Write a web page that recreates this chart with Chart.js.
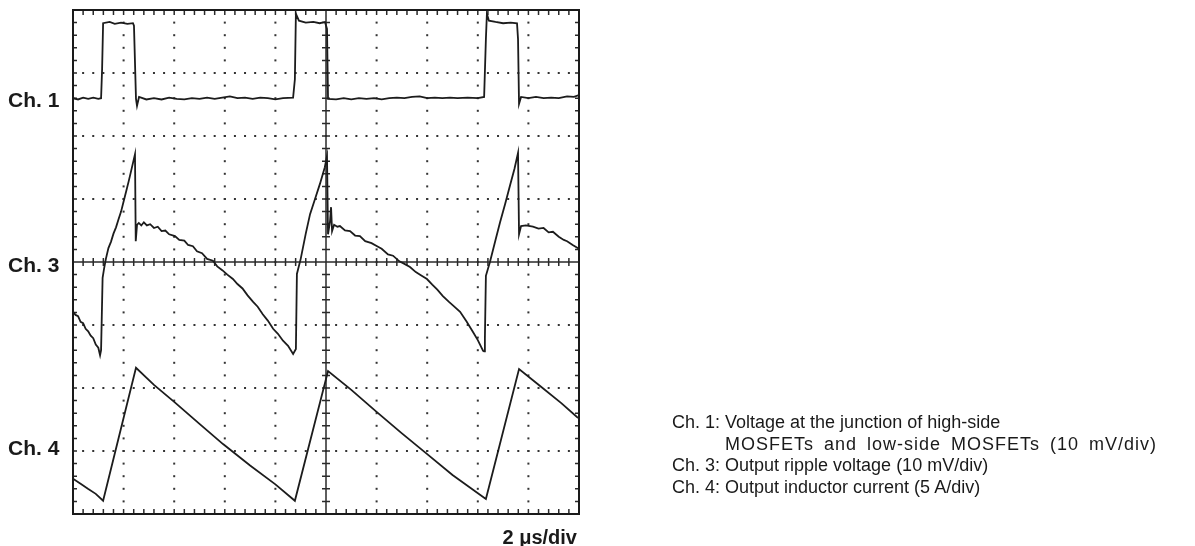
<!DOCTYPE html>
<html>
<head>
<meta charset="utf-8">
<title>Buck converter waveforms</title>
<script src="https://cdn.jsdelivr.net/npm/chart.js@4.4.1/dist/chart.umd.min.js"></script>
<style>
  body { margin: 0; background: #fff; }
  #wrap { position: relative; width: 1195px; height: 546px; font-family: "Liberation Sans", Arial, sans-serif; color: #1a1a1a; }
  #scope { position: absolute; left: 0; top: 0; }
  .ch { position: absolute; left: 8px; font-weight: bold; font-size: 21px; line-height: 24px; }
  .div { position: absolute; right: 618px; top: 525px; font-weight: bold; font-size: 20px; line-height: 24px; }
  .notes { position: absolute; left: 672px; top: 412px; font-size: 18px; line-height: 21.7px; }
  .notes .indent { padding-left: 53px; letter-spacing: 1px; word-spacing: 4px; }
</style>
</head>
<body>
<div id="wrap">
  <canvas id="scope" width="1195" height="546"></canvas>
  <div class="ch" style="top:88px">Ch. 1</div>
  <div class="ch" style="top:253px">Ch. 3</div>
  <div class="ch" style="top:436px">Ch. 4</div>
  <div class="div">2 μs/div</div>
  <div class="notes">
    <div>Ch. 1: Voltage at the junction of high-side</div>
    <div class="indent">MOSFETs and low-side MOSFETs (10 mV/div)</div>
    <div>Ch. 3: Output ripple voltage (10 mV/div)</div>
    <div>Ch. 4: Output inductor current (5 A/div)</div>
  </div>
</div>
<script>
// time in µs (2 µs/div), levels in screen divisions (-4 .. 4)
const timeDivs = [0, 2, 4, 6, 8, 10, 12, 14, 16, 18, 20];
const levelDivs = [-4, -3, -2, -1, 0, 1, 2, 3, 4];

// Ch. 1 - switch node
const ch1Time = [0, 0.2, 0.4, 0.6, 0.8, 1.0, 1.11, 1.15, 1.19, 1.45, 1.65, 1.9, 2.15, 2.37, 2.41, 2.49, 2.53, 2.61,
  2.9, 3.2, 3.5, 3.8, 4.1, 4.4, 4.7, 5.0, 5.3, 5.6, 5.9, 6.2, 6.5, 6.8, 7.1, 7.4, 7.7, 8.0, 8.3, 8.7,
  8.77, 8.81, 8.93, 9.2, 9.5, 9.75, 9.96, 10.04, 10.08, 10.4, 10.7, 11.0, 11.3, 11.6, 11.9, 12.2, 12.5,
  12.8, 13.1, 13.4, 13.7, 14.0, 14.3, 14.6, 14.9, 15.2, 15.6, 16.0, 16.25, 16.32, 16.36, 16.44, 16.7,
  17.0, 17.3, 17.55, 17.59, 17.63, 17.71, 18.0, 18.3, 18.6, 18.9, 19.2, 19.53, 19.8, 20.0];
const ch1Div = [2.60, 2.58, 2.61, 2.59, 2.61, 2.59, 2.60, 3.06, 3.79, 3.81, 3.78, 3.80, 3.78, 3.79, 3.75, 2.59, 2.48, 2.62,
  2.58, 2.60, 2.58, 2.61, 2.59, 2.58, 2.60, 2.59, 2.61, 2.59, 2.61, 2.63, 2.60, 2.61, 2.59, 2.61, 2.60, 2.58, 2.60, 2.61,
  2.90, 3.94, 3.83, 3.80, 3.81, 3.79, 3.81, 3.70, 2.59, 2.58, 2.60, 2.58, 2.60, 2.59, 2.60, 2.58, 2.60,
  2.61, 2.60, 2.62, 2.63, 2.60, 2.61, 2.60, 2.61, 2.60, 2.61, 2.60, 2.62, 3.54, 3.94, 3.83, 3.81,
  3.79, 3.80, 3.79, 3.54, 2.51, 2.62, 2.60, 2.62, 2.60, 2.61, 2.60, 2.63, 2.62, 2.65];

// Ch. 3 - output ripple
const ch3Time = [0, 0.1, 0.2, 0.3, 0.4, 0.5, 0.6, 0.7, 0.8, 0.9, 1.0, 1.07, 1.11, 1.17, 1.23, 1.3, 1.4, 1.5, 1.6, 1.7,
  1.8, 1.9, 2.0, 2.1, 2.2, 2.3, 2.45, 2.48, 2.53, 2.6, 2.7, 2.8, 2.92, 3.05, 3.2, 3.35, 3.5, 3.65, 3.8, 4.03,
  4.2, 4.4, 4.55, 4.74, 4.9, 5.1, 5.3, 5.53, 5.7, 5.9, 6.1, 6.32, 6.5, 6.7, 6.9, 7.11, 7.3, 7.5, 7.7, 7.91,
  8.1, 8.3, 8.5, 8.7, 8.81, 8.85, 9.0, 9.2, 9.37, 9.55, 9.76, 9.95, 10.04, 10.08, 10.16, 10.2, 10.24, 10.32,
  10.45, 10.55, 10.75, 10.95, 11.15, 11.34, 11.55, 11.8, 12.02, 12.2, 12.45, 12.65, 12.9, 13.1, 13.32, 13.55,
  13.75, 13.99, 14.2, 14.4, 14.62, 14.85, 15.05, 15.3, 15.55, 15.81, 16.0, 16.21, 16.25, 16.28, 16.32, 16.48,
  16.7, 16.88, 17.08, 17.27, 17.45, 17.59, 17.63, 17.71, 17.9, 18.18, 18.4, 18.6, 18.8, 18.97, 19.2, 19.4,
  19.53, 19.75, 20.0];
const ch3Div = [-0.79, -0.84, -0.86, -0.95, -0.97, -1.06, -1.10, -1.17, -1.21, -1.31, -1.36, -1.48, -1.40, -0.25, -0.10, 0.05, 0.22, 0.32, 0.45, 0.55,
  0.68, 0.80, 0.96, 1.12, 1.28, 1.45, 1.71, 0.33, 0.59, 0.62, 0.58, 0.63, 0.58, 0.60, 0.54, 0.56, 0.49, 0.50, 0.44, 0.41,
  0.35, 0.34, 0.27, 0.25, 0.17, 0.14, 0.05, 0.02, -0.07, -0.13, -0.20, -0.27, -0.35, -0.42, -0.53, -0.63, -0.71, -0.83, -0.93, -1.06,
  -1.14, -1.25, -1.33, -1.46, -1.38, -0.19, 0.05, 0.45, 0.76, 0.98, 1.24, 1.50, 1.68, 0.44, 0.65, 0.87, 0.49, 0.59,
  0.56, 0.57, 0.50, 0.49, 0.42, 0.41, 0.33, 0.30, 0.25, 0.21, 0.12, 0.10, 0.01, -0.03, -0.08, -0.16,
  -0.21, -0.27, -0.36, -0.44, -0.54, -0.63, -0.70, -0.79, -0.94, -1.11, -1.24, -1.41, -1.42, -1.22, -0.22, 0.00,
  0.35, 0.63, 0.92, 1.21, 1.48, 1.73, 0.44, 0.57, 0.58, 0.56, 0.53, 0.54, 0.47, 0.48, 0.40, 0.35,
  0.33, 0.27, 0.21];

// Ch. 4 - inductor current
const ch4Time = [0, 0.3, 0.59, 0.9, 1.19, 2.49, 3.2, 4.0, 5.0, 5.93, 7.0, 8.0, 8.77, 10.08, 11.0, 12.0, 13.0, 14.0,
  15.0, 16.32, 17.63, 18.5, 19.3, 19.92, 20.0];
const ch4Div = [-3.44, -3.52, -3.60, -3.68, -3.79, -1.68, -1.95, -2.22, -2.57, -2.89, -3.23, -3.53, -3.79, -1.73, -2.03, -2.38, -2.72, -3.05,
  -3.38, -3.76, -1.70, -1.98, -2.24, -2.46, -2.48];

const traceColor = '#1c1c1c';

function toPoints(times, levels) {
  return times.map((t, i) => ({ x: t, y: levels[i] }));
}

// graticule: dotted divisions, ticked centre cross, ticked frame
const graticule = {
  id: 'graticule',
  beforeDatasetsDraw(chart) {
    const { ctx, chartArea: a, scales: { x, y } } = chart;
    const minorT = [], minorL = [];
    for (let t = 0; t <= 20.001; t += 0.4) minorT.push(t);
    for (let l = -4; l <= 4.001; l += 0.2) minorL.push(l);

    ctx.save();
    ctx.fillStyle = '#333';
    timeDivs.forEach(t => {
      if (t === 0 || t === 10 || t === 20) return;
      const px = x.getPixelForValue(t);
      minorL.forEach(l => ctx.fillRect(px - 1, y.getPixelForValue(l) - 1, 2, 2));
    });
    levelDivs.forEach(l => {
      if (l === 0 || Math.abs(l) === 4) return;
      const py = y.getPixelForValue(l);
      minorT.forEach(t => ctx.fillRect(x.getPixelForValue(t) - 1, py - 1, 2, 2));
    });

    ctx.strokeStyle = '#2a2a2a';
    ctx.lineWidth = 1.5;
    const cx = x.getPixelForValue(10), cy = y.getPixelForValue(0);
    ctx.beginPath();
    ctx.moveTo(a.left, cy); ctx.lineTo(a.right, cy);
    ctx.moveTo(cx, a.top); ctx.lineTo(cx, a.bottom);
    minorT.forEach(t => {
      const px = x.getPixelForValue(t);
      ctx.moveTo(px, cy - 4); ctx.lineTo(px, cy + 4);
      ctx.moveTo(px, a.top); ctx.lineTo(px, a.top + 5);
      ctx.moveTo(px, a.bottom); ctx.lineTo(px, a.bottom - 5);
    });
    minorL.forEach(l => {
      const py = y.getPixelForValue(l);
      ctx.moveTo(cx - 4, py); ctx.lineTo(cx + 4, py);
      ctx.moveTo(a.left, py); ctx.lineTo(a.left + 4, py);
      ctx.moveTo(a.right, py); ctx.lineTo(a.right - 4, py);
    });
    ctx.stroke();
    ctx.restore();
  },
  afterDatasetsDraw(chart) {
    const { ctx, chartArea: a } = chart;
    ctx.save();
    ctx.strokeStyle = '#1a1a1a';
    ctx.lineWidth = 2;
    ctx.strokeRect(a.left, a.top, a.right - a.left, a.bottom - a.top);
    ctx.restore();
  }
};

function drawScope() {
  const ctx = document.getElementById('scope');
  const line = (label, pts) => ({
    label: label,
    data: pts,
    borderColor: traceColor,
    borderWidth: 1.8,
    pointRadius: 0,
    tension: 0,
    fill: false
  });
  new Chart(ctx, {
    type: 'line',
    data: {
      datasets: [
        line('Ch. 1', toPoints(ch1Time, ch1Div)),
        line('Ch. 3', toPoints(ch3Time, ch3Div)),
        line('Ch. 4', toPoints(ch4Time, ch4Div))
      ]
    },
    options: {
      responsive: false,
      animation: false,
      devicePixelRatio: 1,
      layout: { padding: { left: 73, top: 10, right: 616, bottom: 32 } },
      scales: {
        x: { type: 'linear', min: 0, max: 20, display: false },
        y: { type: 'linear', min: -4, max: 4, display: false }
      },
      plugins: { legend: { display: false }, tooltip: { enabled: false } }
    },
    plugins: [graticule]
  });
}

drawScope();
</script>
</body>
</html>
